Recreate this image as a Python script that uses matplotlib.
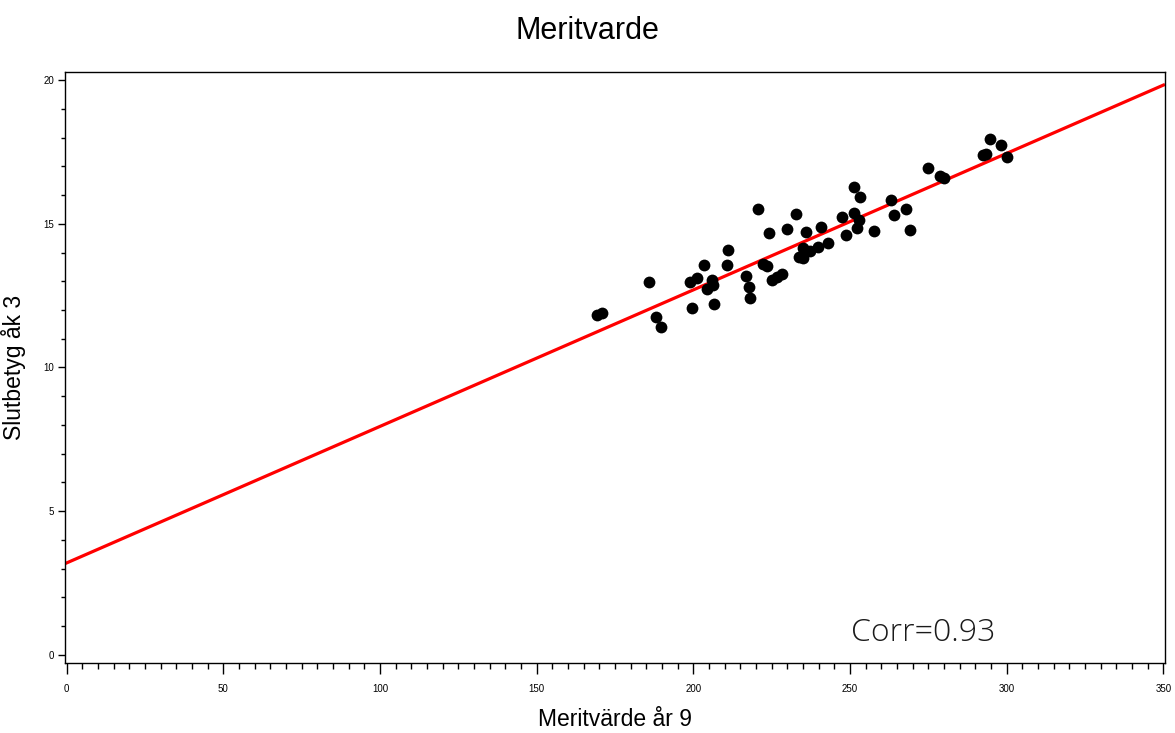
import matplotlib.pyplot as plt
from matplotlib.ticker import MultipleLocator

plt.rcParams['font.family'] = ['Liberation Sans', 'DejaVu Sans']

# ── Data ──────────────────────────────────────────────────────────────────
merit_ar9 = [169.4, 170.9, 185.9, 188.1, 189.8, 198.9, 199.7, 201.3, 203.4, 204.3,
             206.1, 206.4, 206.6, 210.8, 211.1, 216.7, 217.6, 218.1, 220.6, 222.2,
             223.4, 224.1, 225.0, 226.6, 228.2, 229.8, 232.6, 233.7, 235.1, 235.1,
             235.9, 237.2, 239.9, 240.8, 243.1, 247.4, 248.7, 251.3, 251.4, 252.2,
             252.7, 253.2, 257.5, 263.0, 264.1, 267.9, 269.1, 274.9, 278.7, 280.1,
             292.4, 293.3, 294.5, 298.1, 300.0]
slutbetyg = [11.84, 11.89, 12.98, 11.77, 11.40, 12.96, 12.07, 13.10, 13.55, 12.72,
             13.04, 12.87, 12.21, 13.58, 14.08, 13.18, 12.79, 12.43, 15.50, 13.59,
             13.53, 14.69, 13.04, 13.16, 13.25, 14.81, 15.34, 13.85, 14.15, 13.82,
             14.70, 14.05, 14.20, 14.90, 14.32, 15.22, 14.61, 16.27, 15.37, 14.84,
             15.13, 15.94, 14.75, 15.83, 15.30, 15.51, 14.78, 16.93, 16.67, 16.58,
             17.39, 17.44, 17.96, 17.73, 17.32]

fit_intercept = 3.2
fit_slope = 0.0475
fit_x = [0, 350]
corr_text = 'Corr=0.93'

# ── Figure ────────────────────────────────────────────────────────────────
fig = plt.figure(figsize=(11.75, 7.33), dpi=100)
ax = fig.add_axes([0.0553, 0.0955, 0.9362, 0.8063])

ax.plot(fit_x, [fit_intercept + fit_slope * x for x in fit_x],
        color='#ff0000', linewidth=2.3, zorder=2)
ax.plot(merit_ar9, slutbetyg, 'o', color='black', markersize=8.5,
        markeredgewidth=0, zorder=3)

ax.set_xlim(-0.5, 350.5)
ax.set_ylim(-0.28, 20.28)

ax.xaxis.set_major_locator(MultipleLocator(50))
ax.xaxis.set_minor_locator(MultipleLocator(5))
ax.yaxis.set_major_locator(MultipleLocator(5))
ax.yaxis.set_minor_locator(MultipleLocator(1))
ax.tick_params(axis='x', which='major', length=8, width=1, labelsize=7, pad=7)
ax.tick_params(axis='x', which='minor', length=4, width=1)
ax.tick_params(axis='y', which='major', length=5, width=1, labelsize=7, pad=3)
ax.tick_params(axis='y', which='minor', length=3, width=1)

for s in ax.spines.values():
    s.set_linewidth(1)

ax.set_xlabel('Meritvärde år 9', fontsize=16.5, labelpad=10)
ax.set_ylabel('Slutbetyg åk 3', fontsize=16.5, labelpad=12)
fig.suptitle('Meritvarde', fontsize=22, y=0.978)

ax.text(250.3, 0.75, corr_text, fontsize=23, va='center', ha='left',
        color='#1a1a1a', family=['Open Sans', 'DejaVu Sans'], fontweight='light')

fig.savefig('out.png', dpi=100)
